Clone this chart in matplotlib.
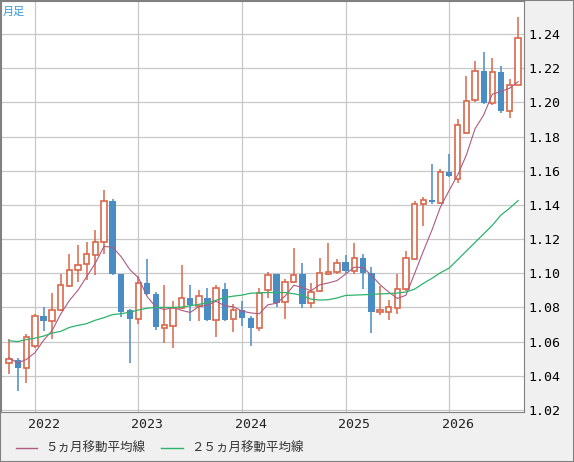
import matplotlib
matplotlib.use("Agg")
import matplotlib.pyplot as plt
import numpy as np

months = list(range(60))  # Oct 2021 .. Sep 2026
opens = [1.0472,1.0490,1.0447,1.0575,1.0748,1.0721,1.0787,1.0928,1.1016,1.1055,1.1107,1.1183,1.1423,1.0996,1.0783,1.0734,1.0944,1.0880,1.0682,1.0690,
         1.0796,1.0853,1.0806,1.0858,1.0725,1.0910,1.0731,1.0785,1.0739,1.0679,1.0899,1.0993,1.0829,1.0951,1.0993,1.0824,1.0895,1.0997,1.1009,
         1.1065,1.1014,1.1092,1.1001,1.0775,1.0775,1.0795,1.0906,1.1086,1.1408,1.1431,1.1413,1.1594,1.1553,1.1820,1.2015,1.2184,1.1995,1.2180,1.1949,1.2104]
closes = [1.0496,1.0447,1.0624,1.0748,1.0721,1.0787,1.0932,1.1016,1.1051,1.1113,1.1183,1.1421,1.0993,1.0773,1.0734,1.0944,1.0876,1.0688,1.0696,1.0796,
          1.0858,1.0814,1.0864,1.0729,1.0914,1.0727,1.0785,1.0737,1.0677,1.0887,1.0992,1.0827,1.0951,1.0992,1.0822,1.0893,1.1003,1.1005,1.1061,
          1.1014,1.1092,1.0999,1.0775,1.0783,1.0800,1.0906,1.1092,1.1408,1.1431,1.1417,1.1594,1.1569,1.1869,1.2009,1.2184,1.1995,1.2180,1.1949,1.2104,1.2377]
highs = [1.0614,1.0504,1.0643,1.0760,1.0800,1.0886,1.0996,1.1110,1.1167,1.1180,1.1254,1.1487,1.1435,1.0996,1.0789,1.0983,1.1086,1.0892,1.0934,1.0837,
         1.1051,1.0930,1.0900,1.0916,1.0930,1.0941,1.0820,1.0839,1.0747,1.0916,1.1009,1.0993,1.0964,1.1150,1.1057,1.0945,1.1090,1.1177,1.1086,
         1.1106,1.1176,1.1112,1.1036,1.0923,1.0843,1.0995,1.1129,1.1421,1.1448,1.1637,1.1608,1.1696,1.1900,1.2153,1.2240,1.2293,1.2260,1.2215,1.2137,1.2497]
lows = [1.0410,1.0313,1.0356,1.0565,1.0663,1.0614,1.0780,1.0920,1.0950,1.0960,1.0989,1.1110,1.0989,1.0746,1.0473,1.0702,1.0872,1.0669,1.0589,1.0560,
        1.0790,1.0723,1.0723,1.0718,1.0627,1.0723,1.0656,1.0689,1.0575,1.0660,1.0855,1.0804,1.0731,1.0945,1.0799,1.0799,1.0893,1.0990,1.0995,
        1.1004,1.0995,1.0907,1.0650,1.0756,1.0728,1.0762,1.0898,1.1079,1.1277,1.1404,1.1404,1.1565,1.1530,1.1816,1.2001,1.1991,1.1982,1.1935,1.1910,1.2100]
ma5_first = [1.0505,1.0475,1.0495,1.0535]
ma25 = [1.0605,1.0600,1.0612,1.0620,1.0632,1.0650,1.0660,1.0683,1.0695,1.0705,1.0725,1.0740,1.0758,1.0763,1.0772,1.0785,1.0795,1.0800,1.0800,1.0800,
        1.0802,1.0810,1.0818,1.0826,1.0842,1.0858,1.0866,1.0872,1.0883,1.0885,1.0887,1.0887,1.0887,1.0880,1.0870,1.0848,1.0843,1.0845,1.0855,
        1.0870,1.0872,1.0874,1.0876,1.0879,1.0881,1.0884,1.0890,1.0907,1.0940,1.0970,1.1003,1.1030,1.1080,1.1130,1.1180,1.1230,1.1280,1.1340,1.1380,1.1425]
year_labels = ["2022","2023","2024","2025","2026"]
year_pos = [3,15,27,39,51]
yticks = [1.02,1.04,1.06,1.08,1.10,1.12,1.14,1.16,1.18,1.20,1.22,1.24]

c = np.array(closes)
ma5 = ma5_first + [c[i-4:i+1].mean() for i in range(4, len(c))]

UP = "#d9674a"; DN = "#4a8cc4"
fig = plt.figure(figsize=(5.74,4.62), dpi=100, facecolor="#f0f0f0")
ax = fig.add_axes([1/574, 50/462, 523/574, 411/462])
ax.set_facecolor("white")
ax.set_xlim(-0.93, 59.68)
ax.set_ylim(1.0188, 1.2593)
ax.set_xticks(year_pos); ax.set_xticklabels([])
ax.set_yticks(yticks)
ax.grid(True, color="#c8c8c8", lw=0.9)
ax.tick_params(length=0)
ax.yaxis.tick_right()
ax.set_yticklabels([f"{v:.2f}" for v in yticks], family="DejaVu Sans Mono", fontsize=9.5)
for s in ax.spines.values():
    s.set_color("#808080")
for i,(o,h,l,cl) in enumerate(zip(opens,highs,lows,closes)):
    col = UP if cl >= o else DN
    ax.vlines(i, l, h, color=col, lw=1.1, zorder=2)
    lo, hi = min(o,cl), max(o,cl)
    if cl >= o:
        ax.bar(i, max(hi-lo,0.0004), bottom=lo, width=0.62, facecolor="white", edgecolor=col, lw=1.2, zorder=3)
    else:
        ax.bar(i, max(hi-lo,0.0004), bottom=lo, width=0.72, facecolor=col, edgecolor=col, lw=0, zorder=3)
ax.plot(months, ma5, color="#b05a80", lw=0.8, zorder=4)
ax.plot(months, ma25, color="#2db36b", lw=0.9, zorder=4)
for lab,p in zip(year_labels, year_pos):
    ax.text(p+1.0, 1.0188-0.0075, lab, ha="center", va="center", fontsize=9.5, family="DejaVu Sans Mono", color="#222222")
ax.text(0.004, 0.985, "月足", transform=ax.transAxes, ha="left", va="top", fontsize=8, color="#3399dd", family=["Noto Sans CJK JP"])
fig.lines.append(plt.Line2D([16/574,37/574],[14/462,14/462], color="#b05a80", lw=1, transform=fig.transFigure))
fig.lines.append(plt.Line2D([161/574,183/574],[14/462,14/462], color="#2db36b", lw=1, transform=fig.transFigure))
fig.text(45/574, 14/462, "５ヵ月移動平均線", va="center", fontsize=9, color="#333333", family=["Noto Sans CJK JP"])
fig.text(191/574, 14/462, "２５ヵ月移動平均線", va="center", fontsize=9, color="#333333", family=["Noto Sans CJK JP"])
fig.patches.append(plt.Rectangle((0,0),1,1, transform=fig.transFigure, fill=False, edgecolor="#808080", lw=1.5))
fig.savefig("out.png", dpi=100, facecolor=fig.get_facecolor())
